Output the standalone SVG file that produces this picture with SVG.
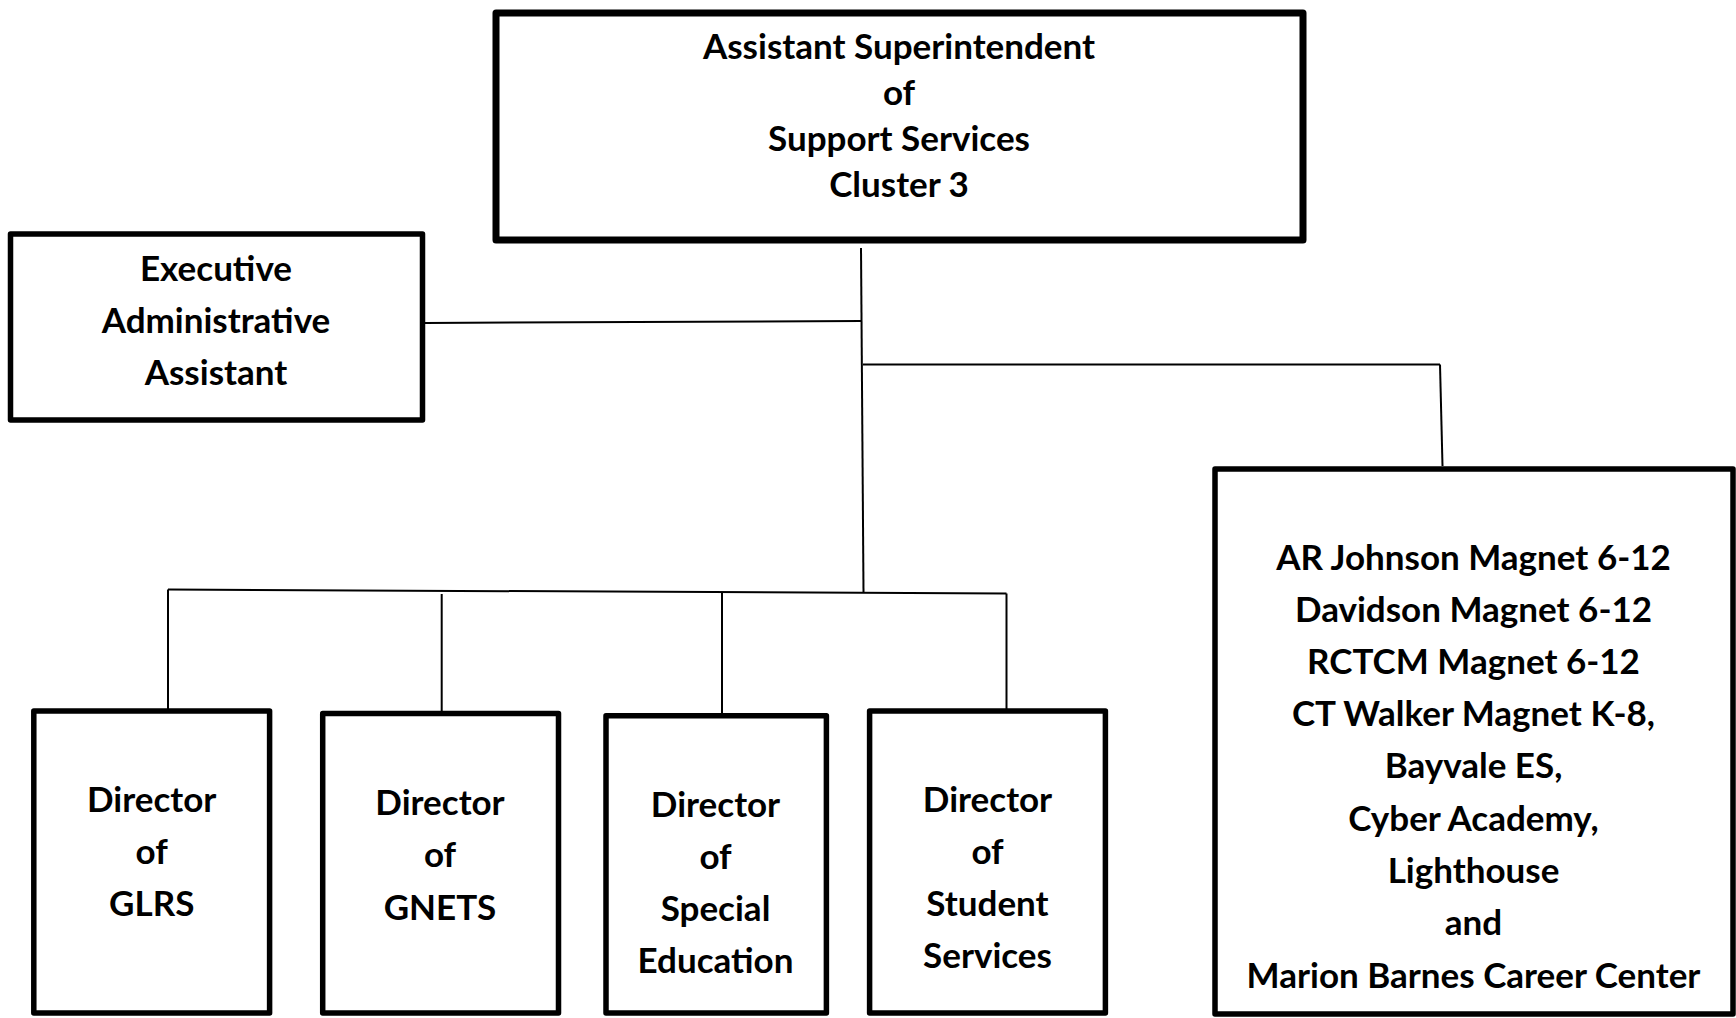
<svg xmlns="http://www.w3.org/2000/svg" width="1736" height="1018" viewBox="0 0 1736 1018">
<style>
.box{fill:#fff;stroke:#000;stroke-width:5.5;stroke-linejoin:round}
.top{stroke-width:7}
.lbl{font-family:"Lato","Liberation Sans",sans-serif;font-weight:700;font-size:35px;fill:#000;text-anchor:middle}
.ln{stroke:#000;stroke-width:2;fill:none}
</style>
<rect width="1736" height="1018" fill="#fff"/>
<g id="connectors">
<line class="ln" x1="861" y1="248" x2="863.5" y2="592"/>
<line class="ln" x1="425" y1="323" x2="861" y2="321"/>
<line class="ln" x1="863" y1="364.5" x2="1440" y2="364.5"/>
<line class="ln" x1="1440" y1="364.5" x2="1442.5" y2="466"/>
<line class="ln" x1="168" y1="589.5" x2="1006.5" y2="593.5"/>
<line class="ln" x1="168" y1="589.5" x2="168" y2="709"/>
<line class="ln" x1="441.7" y1="594" x2="441.7" y2="711"/>
<line class="ln" x1="722" y1="593" x2="722" y2="713"/>
<line class="ln" x1="1006.5" y1="593.5" x2="1006.5" y2="709"/>
</g>
<g id="node-asst-super">
<rect class="box top" x="496" y="13" width="807" height="227"/>
<text class="lbl" x="899" y="59">Assistant Superintendent</text>
<text class="lbl" x="899" y="105">of</text>
<text class="lbl" x="899" y="151">Support Services</text>
<text class="lbl" x="899" y="197">Cluster 3</text>
</g>
<g id="node-exec-admin">
<rect class="box" x="10.5" y="234" width="412" height="186"/>
<text class="lbl" x="216" y="281">Executive</text>
<text class="lbl" x="216" y="333">Administrative</text>
<text class="lbl" x="216" y="385">Assistant</text>
</g>
<g id="node-glrs">
<rect class="box" x="33.8" y="711" width="235.8" height="302"/>
<text class="lbl" x="151.7" y="812">Director</text>
<text class="lbl" x="151.7" y="864">of</text>
<text class="lbl" x="151.7" y="916">GLRS</text>
</g>
<g id="node-gnets">
<rect class="box" x="322.7" y="713.5" width="235.8" height="299.5"/>
<text class="lbl" x="440" y="814.5">Director</text>
<text class="lbl" x="440" y="866.5">of</text>
<text class="lbl" x="440" y="919.5">GNETS</text>
</g>
<g id="node-sped">
<rect class="box" x="606" y="715.7" width="220.4" height="297.3"/>
<text class="lbl" x="715.5" y="816.5">Director</text>
<text class="lbl" x="715.5" y="868.5">of</text>
<text class="lbl" x="715.5" y="920.5">Special</text>
<text class="lbl" x="715.5" y="972.5">Education</text>
</g>
<g id="node-student-services">
<rect class="box" x="869.6" y="711" width="235.8" height="302"/>
<text class="lbl" x="987.5" y="812">Director</text>
<text class="lbl" x="987.5" y="864">of</text>
<text class="lbl" x="987.5" y="916">Student</text>
<text class="lbl" x="987.5" y="968">Services</text>
</g>
<g id="node-schools">
<rect class="box" x="1215" y="469" width="518" height="545"/>
<text class="lbl" x="1473.5" y="570">AR Johnson Magnet 6-12</text>
<text class="lbl" x="1473.5" y="622">Davidson Magnet 6-12</text>
<text class="lbl" x="1473.5" y="674">RCTCM Magnet 6-12</text>
<text class="lbl" x="1473.5" y="726">CT Walker Magnet K-8,</text>
<text class="lbl" x="1473.5" y="778">Bayvale ES,</text>
<text class="lbl" x="1473.5" y="831">Cyber Academy,</text>
<text class="lbl" x="1473.5" y="883">Lighthouse</text>
<text class="lbl" x="1473.5" y="935">and</text>
<text class="lbl" x="1473.5" y="988">Marion Barnes Career Center</text>
</g>
</svg>
